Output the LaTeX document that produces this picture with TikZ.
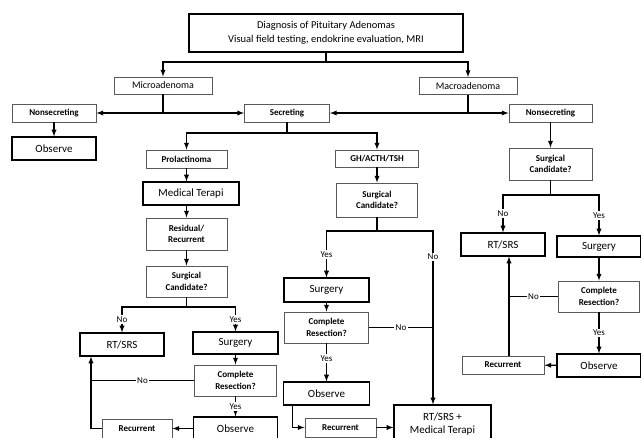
\documentclass[tikz,border=0pt]{standalone}
\usepackage{fontspec}
\setmainfont{Carlito}

\begin{document}
\begin{tikzpicture}[x=1pt, y=-1pt,
  box/.style={draw=black!65, line width=0.9pt, align=center, inner sep=0pt, font=\fontsize{9}{11.5}\selectfont\bfseries},
  bigbox/.style={draw, line width=1.2pt, align=center, inner sep=0pt, font=\fontsize{11}{13}\selectfont},
  line/.style={line width=1.3pt},
  arr/.style={-latex, line width=1.3pt},
  lbl/.style={fill=white, inner sep=1.5pt, font=\fontsize{9}{10}\selectfont}]
  % page frame, the lowest boxes run off the edge
  \useasboundingbox (0,0) rectangle (641,438);
  \clip (0,0) rectangle (641,438);

  \node[bigbox, minimum width=274pt, minimum height=38pt, font=\fontsize{10.5}{14}\selectfont] (diag) at (326,33) {Diagnosis of Pituitary Adenomas\\Visual field testing, endokrine evaluation, MRI};
  \node[box, font=\fontsize{10}{12}\selectfont, minimum width=98pt, minimum height=17pt] (micro) at (163,85.5) {Microadenoma};
  \node[box, font=\fontsize{10}{12}\selectfont, minimum width=98pt, minimum height=17pt] (macro) at (468,86) {Macroadenoma};
  \node[box, minimum width=84pt, minimum height=18pt] (nsL) at (54,113) {Nonsecreting};
  \node[box, minimum width=85pt, minimum height=18pt] (secr) at (287,113) {Secreting};
  \node[box, minimum width=83pt, minimum height=18pt] (nsR) at (550.5,113) {Nonsecreting};
  \node[bigbox, minimum width=84pt, minimum height=23pt] (obsT) at (54,148.5) {Observe};

  % left column
  \node[box, minimum width=81pt, minimum height=18pt] (prl) at (186.5,159) {Prolactinoma};
  \node[bigbox, minimum width=96pt, minimum height=23pt] (medt) at (191,193.5) {Medical Terapi};
  \node[box, minimum width=81pt, minimum height=32pt] (resid) at (186.5,234) {Residual/\\Recurrent};
  \node[box, minimum width=81pt, minimum height=31pt] (scL) at (186.5,281.5) {Surgical\\Candidate?};
  \node[bigbox, minimum width=84pt, minimum height=23pt] (rtL) at (122,344.5) {RT/SRS};
  \node[bigbox, minimum width=85pt, minimum height=22pt] (surgL) at (235.5,343) {Surgery};
  \node[box, minimum width=82pt, minimum height=31pt] (crL) at (235.5,380.5) {Complete\\Resection?};
  \node[bigbox, minimum width=84pt, minimum height=23pt] (obsL) at (235.5,428.5) {Observe};
  \node[box, minimum width=70pt, minimum height=19pt] (recL) at (137,428.5) {Recurrent};

  % middle column
  \node[box, minimum width=83pt, minimum height=17pt] (gh) at (377,158.5) {GH/ACTH/TSH};
  \node[box, minimum width=81pt, minimum height=34pt] (scM) at (377,200) {Surgical\\Candidate?};
  \node[bigbox, minimum width=85pt, minimum height=24pt] (surgM) at (326.5,290) {Surgery};
  \node[box, minimum width=84pt, minimum height=31pt] (crM) at (326.5,327.5) {Complete\\Resection?};
  \node[bigbox, minimum width=86pt, minimum height=23pt] (obsM) at (326.5,393.5) {Observe};
  \node[box, minimum width=71pt, minimum height=19pt] (recM) at (340.5,427.5) {Recurrent};
  \node[bigbox, minimum width=97pt, minimum height=38pt] (rtmt) at (442.5,424) {RT/SRS +\\Medical Terapi};

  % right column
  \node[box, minimum width=83pt, minimum height=32pt] (scR) at (550.5,164) {Surgical\\Candidate?};
  \node[bigbox, minimum width=84pt, minimum height=23pt] (rtR) at (503,244.5) {RT/SRS};
  \node[bigbox, minimum width=84pt, minimum height=21pt] (surgR) at (599,246.5) {Surgery};
  \node[box, minimum width=81pt, minimum height=31pt] (crR) at (599,296.5) {Complete\\Resection?};
  \node[bigbox, minimum width=84pt, minimum height=23pt] (obsR) at (599,365.5) {Observe};
  \node[box, minimum width=82pt, minimum height=18pt] (recR) at (503,365) {Recurrent};

  % top split
  \coordinate (jTop) at (326,62);
  \draw[line] (diag) -- (jTop);
  \draw[arr] (jTop) -| (micro);
  \draw[arr] (jTop) -| (macro);
  \coordinate (jMi) at (163,113);
  \draw[line] (micro) -- (jMi);
  \draw[arr] (jMi) -- (nsL);
  \draw[arr] (jMi) -- (secr);
  \coordinate (jMa) at (468,113);
  \draw[line] (macro) -- (jMa);
  \draw[arr] (jMa) -- (secr);
  \draw[arr] (jMa) -- (nsR);
  \draw[arr] (nsL) -- (obsT);
  \coordinate (jSe) at (287,133);
  \draw[line] (secr) -- (jSe);
  \draw[arr] (jSe) -| (prl);
  \draw[arr] (jSe) -| (gh);

  % left column
  \draw[arr] (prl) -- (prl |- medt.north);
  \draw[arr] (prl |- medt.south) -- (resid);
  \draw[arr] (resid) -- (scL);
  \coordinate (jL) at (186.5,307);
  \draw[line] (scL) -- (jL);
  \draw[arr] (jL) -| node[lbl, pos=0.75] {No} (rtL);
  \draw[arr] (jL) -| node[lbl, pos=0.75] {Yes} (surgL);
  \draw[arr] (surgL) -- (crL);
  \draw[arr] (crL) -- node[lbl] {Yes} (obsL);
  \draw[arr] (obsL) -- (recL);
  \coordinate (cL) at (91,428.5);
  \draw[arr] (recL) -- (cL) -- (cL |- rtL.south);
  \draw[line] (crL) -- node[lbl] {No} (crL -| cL);

  % middle column
  \draw[arr] (gh) -- (scM);
  \coordinate (jM) at (377,231);
  \draw[line] (scM) -- (jM);
  \draw[arr] (jM) -| node[lbl, pos=0.75] {Yes} (surgM);
  \coordinate (cM) at (433,231);
  \draw[arr] (jM) -- (cM) -- node[lbl, pos=0.15] {No} (cM |- rtmt.north);
  \draw[arr] (surgM) -- (crM);
  \draw[arr] (crM) -- node[lbl, pos=0.4] {Yes} (obsM);
  \draw[line] (crM) -- node[lbl] {No} (crM -| cM);
  \draw[arr] ([xshift=-34pt]obsM.south) |- (recM);
  \draw[arr] (recM) -- (recM -| rtmt.west);

  % right column
  \draw[arr] (nsR) -- (scR);
  \coordinate (jR) at (550.5,195);
  \draw[line] (scR) -- (jR);
  \draw[arr] (jR) -| node[lbl, pos=0.75] {No} (rtR);
  \draw[arr] (jR) -| node[lbl, pos=0.75] {Yes} (surgR);
  \draw[arr] (surgR) -- (crR);
  \draw[arr] (crR) -- node[lbl] {Yes} (obsR);
  \coordinate (cR) at (509,296.5);
  \draw[line] (crR) -- node[lbl] {No} (cR);
  \draw[arr] (cR |- recR.north) -- (cR |- rtR.south);
  \draw[arr] (obsR) -- (recR);
\end{tikzpicture}
\end{document}
